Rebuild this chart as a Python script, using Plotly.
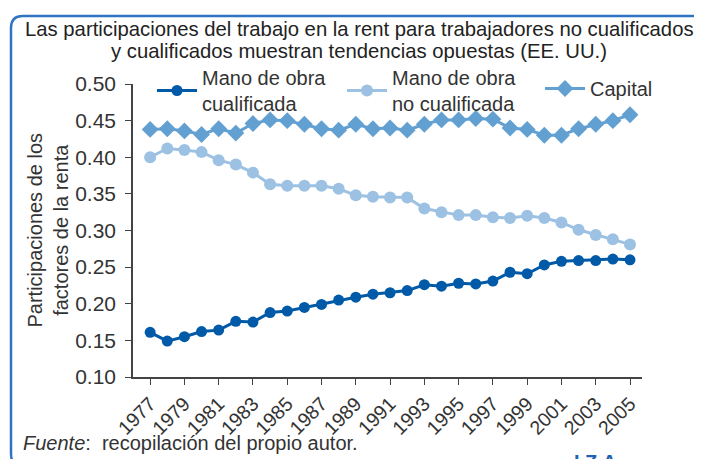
import plotly.graph_objects as go

years = list(range(1977, 2006))
cualificada = [0.161, 0.149, 0.155, 0.162, 0.164, 0.176, 0.175, 0.188, 0.190, 0.195,
               0.199, 0.205, 0.209, 0.213, 0.215, 0.218, 0.226, 0.224, 0.228, 0.227,
               0.231, 0.243, 0.241, 0.253, 0.258, 0.259, 0.259, 0.261, 0.260]
no_cualificada = [0.400, 0.412, 0.410, 0.407, 0.396, 0.390, 0.379, 0.363, 0.361, 0.361,
                  0.361, 0.357, 0.348, 0.346, 0.345, 0.345, 0.330, 0.325, 0.321, 0.321,
                  0.318, 0.317, 0.320, 0.317, 0.311, 0.301, 0.294, 0.288, 0.281]
capital = [0.438, 0.439, 0.436, 0.431, 0.439, 0.433, 0.446, 0.451, 0.450, 0.445,
           0.439, 0.437, 0.445, 0.439, 0.440, 0.437, 0.445, 0.451, 0.451, 0.453,
           0.452, 0.440, 0.438, 0.430, 0.430, 0.439, 0.445, 0.450, 0.458]
tick_years = list(range(1977, 2006, 2))
y_ticks = [0.10, 0.15, 0.20, 0.25, 0.30, 0.35, 0.40, 0.45, 0.50]

# page body has an 8px default margin; positions below are in screen pixels
OFF = 8
W, H = 702, 459
PLOT_L, PLOT_R, PLOT_T, PLOT_B = 133, 642, 84, 377
ML, MT = PLOT_L - OFF, PLOT_T - OFF
MR, MB = W - (PLOT_R - OFF), H - (PLOT_B - OFF)
PW, PH = PLOT_R - PLOT_L, PLOT_B - PLOT_T

def px(x):
    return (x - PLOT_L) / PW

def py(y):
    return (PLOT_B - y) / PH

FONT = "Liberation Sans, Arial, sans-serif"
TXT = "#333333"

fig = go.Figure()
fig.add_trace(go.Scatter(x=years, y=cualificada, mode="lines+markers",
                         name="Mano de obra<br>cualificada", legend="legend",
                         line=dict(color="#005aa7", width=3),
                         marker=dict(symbol="circle", size=11, color="#005aa7")))
fig.add_trace(go.Scatter(x=years, y=no_cualificada, mode="lines+markers",
                         name="Mano de obra<br>no cualificada", legend="legend2",
                         line=dict(color="#9dc1e3", width=3),
                         marker=dict(symbol="circle", size=12, color="#9dc1e3")))
fig.add_trace(go.Scatter(x=years, y=capital, mode="lines+markers",
                         name="Capital", legend="legend3",
                         line=dict(color="#62a0d2", width=3),
                         marker=dict(symbol="diamond", size=13, color="#62a0d2")))

def rrect(x0, y0, x1, y1, r):
    X, Y = px, py
    return (f"M {X(x0+r)},{Y(y0)} L {X(x1-r)},{Y(y0)} Q {X(x1)},{Y(y0)} {X(x1)},{Y(y0+r)} "
            f"L {X(x1)},{Y(y1-r)} Q {X(x1)},{Y(y1)} {X(x1-r)},{Y(y1)} "
            f"L {X(x0+r)},{Y(y1)} Q {X(x0)},{Y(y1)} {X(x0)},{Y(y1-r)} "
            f"L {X(x0)},{Y(y0+r)} Q {X(x0)},{Y(y0)} {X(x0+r)},{Y(y0)} Z")

fig.add_shape(type="path", xref="paper", yref="paper",
              path=rrect(11, 16, 716, 466, 12),
              line=dict(color="#2f74c0", width=2.5), fillcolor="rgba(0,0,0,0)")

title_lines = ["Las participaciones del trabajo en la rent para trabajadores no cualificados",
               "y cualificados muestran tendencias opuestas (EE. UU.)"]
for line, yc in zip(title_lines, [29, 51]):
    fig.add_annotation(xref="paper", yref="paper", x=px(359), y=py(yc), xanchor="center",
                       yanchor="middle", text=line, showarrow=False,
                       font=dict(size=20.3, color="#222222", family=FONT))

fig.add_annotation(xref="paper", yref="paper", x=px(47.5), y=py(230), xanchor="center",
                   yanchor="middle", textangle=-90,
                   text="Participaciones de los<br>factores de la renta", showarrow=False,
                   font=dict(size=20, color=TXT, family=FONT))

fig.add_annotation(xref="paper", yref="paper", x=px(21), y=py(443), xanchor="left", yanchor="middle",
                   text="<i>Fuente</i>:  recopilación del propio autor.",
                   showarrow=False, font=dict(size=20, color=TXT, family=FONT))
fig.add_annotation(xref="paper", yref="paper", x=px(595), y=py(449), xanchor="center", yanchor="top",
                   text="<b>I Z A</b>", showarrow=False,
                   font=dict(size=20, color="#1f63b0", family=FONT))

def leg(x, y):
    return dict(orientation="h", x=px(x), y=py(y), xanchor="left", yanchor="top",
                font=dict(size=20, color=TXT, family=FONT), bgcolor="rgba(0,0,0,0)",
                itemwidth=40)

fig.update_layout(
    width=W, height=H,
    margin=dict(l=ML, r=MR, t=MT, b=MB, autoexpand=False),
    paper_bgcolor="white", plot_bgcolor="white",
    font=dict(family=FONT, color=TXT, size=20),
    showlegend=True,
    legend=leg(152, 58),
    legend2=leg(342, 58),
    legend3=leg(540, 69),
    xaxis=dict(range=[1976, 2005.7], tickvals=tick_years, ticktext=[str(y) for y in tick_years],
               tickangle=-45, showgrid=False, zeroline=False, showline=True,
               linecolor="#444444", linewidth=1.5, ticks="outside", ticklen=6,
               tickcolor="#444444", tickfont=dict(size=19.5, color=TXT, family=FONT)),
    yaxis=dict(range=[0.10, 0.50], tickvals=y_ticks, tickformat=".2f",
               showgrid=False, zeroline=False, showline=True,
               linecolor="#444444", linewidth=1.5, ticks="outside", ticklen=6,
               tickcolor="#444444", ticklabelstandoff=5,
               tickfont=dict(size=21, color=TXT, family=FONT)),
)

fig.write_html("out.html")
